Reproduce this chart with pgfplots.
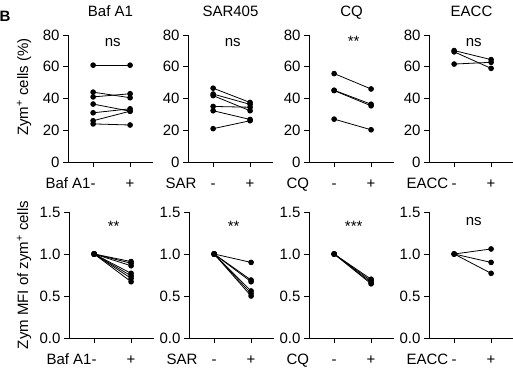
\documentclass[border=0pt]{standalone}
\usepackage{fontspec}
\setmainfont{Liberation Sans}
\setsansfont{Liberation Sans}
\usepackage{pgfplots}
\pgfplotsset{compat=1.18}
\newcommand{\fs}{\fontsize{15}{18}\selectfont}
\pgfplotsset{
 pline/.style={black, solid, line width=0.8pt, mark=*, mark size=2.4pt, mark options={solid, fill=black, draw=black}},
 panel/.style={scale only axis, width=85pt, xmin=-0.68, xmax=1.62,
   axis x line*=bottom, axis y line*=left, tick align=outside, major tick length=5pt,
   xtick={0,1}, xticklabels={}, clip=false,
   axis line style={line width=0.9pt, black}, every tick/.style={line width=0.9pt, black},
   yticklabel style={font=\fs, /pgf/number format/assume math mode=true},
   title style={font=\fs, at={(0.5,1)}, anchor=base, yshift=13pt}},
 top/.style={panel, height=127pt, ymin=0, ymax=80, ytick={0,20,40,60,80}},
 bot/.style={panel, height=126pt, ymin=0, ymax=1.5, ytick={0,0.5,1,1.5},
   yticklabel style={/pgf/number format/.cd, fixed, fixed zerofill, precision=1}},
}
\newcommand{\xlab}[1]{%
 \node[font=\fs, anchor=base west, xshift=-26pt, yshift=-26pt] at (rel axis cs:0,0) {#1};
 \node[font=\fs, anchor=base, yshift=-26pt] at (axis cs:0,0) {-};
 \node[font=\fs, anchor=base, yshift=-26pt] at (axis cs:1,0) {+};}
\begin{document}
\begin{tikzpicture}
\useasboundingbox (0,0) rectangle (513pt,370pt);
\node[font=\fs\bfseries, anchor=base west] at (-4pt,348pt) {B};
\node[font=\fs, rotate=90] at (24pt,283pt) {Zym\textsuperscript{+} cells (\%)};
\node[font=\fs, rotate=90] at (24pt,95pt) {Zym MFI of zym\textsuperscript{+} cells};
% ---- top row
\begin{axis}[top, at={(68pt,208pt)}, anchor=south west, title={Baf A1}]
\addplot[pline] coordinates {(0,61) (1,61)};
\addplot[pline] coordinates {(0,44) (1,40.5)};
\addplot[pline] coordinates {(0,41) (1,43)};
\addplot[pline] coordinates {(0,36.5) (1,32)};
\addplot[pline] coordinates {(0,31) (1,33.5)};
\addplot[pline] coordinates {(0,26) (1,32)};
\addplot[pline] coordinates {(0,24) (1,23.3)};
\node[font=\fs, anchor=base] at (axis cs:0.53,73) {ns};
\xlab{Baf A1}
\end{axis}
\begin{axis}[top, at={(188pt,208pt)}, anchor=south west, title={SAR405}]
\addplot[pline] coordinates {(0,46.5) (1,37.5)};
\addplot[pline] coordinates {(0,42.8) (1,36.3)};
\addplot[pline] coordinates {(0,41.8) (1,32.3)};
\addplot[pline] coordinates {(0,35) (1,34.5)};
\addplot[pline] coordinates {(0,32.3) (1,26.8)};
\addplot[pline] coordinates {(0,21) (1,26)};
\node[font=\fs, anchor=base] at (axis cs:0.53,73) {ns};
\xlab{SAR}
\end{axis}
\begin{axis}[top, at={(309pt,208pt)}, anchor=south west, title={CQ}]
\addplot[pline] coordinates {(0,55.7) (1,46)};
\addplot[pline] coordinates {(0,45.2) (1,36.4)};
\addplot[pline] coordinates {(0,45) (1,35.4)};
\addplot[pline] coordinates {(0,27) (1,20.3)};
\node[font=\fs, anchor=base] at (axis cs:0.53,73) {**};
\xlab{CQ}
\end{axis}
\begin{axis}[top, at={(429pt,208pt)}, anchor=south west, title={EACC}]
\addplot[pline] coordinates {(0,70.2) (1,64.5)};
\addplot[pline] coordinates {(0,69.4) (1,59)};
\addplot[pline] coordinates {(0,61.7) (1,62.8)};
\node[font=\fs, anchor=base] at (axis cs:0.53,73) {ns};
\xlab{EACC}
\end{axis}
% ---- bottom row
\begin{axis}[bot, at={(69pt,32pt)}, anchor=south west]
\addplot[pline] coordinates {(0,1) (1,0.91)};
\addplot[pline] coordinates {(0,1) (1,0.89)};
\addplot[pline] coordinates {(0,1) (1,0.86)};
\addplot[pline] coordinates {(0,1) (1,0.77)};
\addplot[pline] coordinates {(0,1) (1,0.74)};
\addplot[pline] coordinates {(0,1) (1,0.71)};
\addplot[pline] coordinates {(0,1) (1,0.67)};
\node[font=\fs, anchor=base] at (axis cs:0.53,1.27) {**};
\xlab{Baf A1}
\end{axis}
\begin{axis}[bot, at={(189pt,32pt)}, anchor=south west]
\addplot[pline] coordinates {(0,1) (1,0.90)};
\addplot[pline] coordinates {(0,1) (1,0.69)};
\addplot[pline] coordinates {(0,1) (1,0.67)};
\addplot[pline] coordinates {(0,1) (1,0.56)};
\addplot[pline] coordinates {(0,1) (1,0.53)};
\addplot[pline] coordinates {(0,1) (1,0.50)};
\node[font=\fs, anchor=base] at (axis cs:0.53,1.27) {**};
\xlab{SAR}
\end{axis}
\begin{axis}[bot, at={(309pt,32pt)}, anchor=south west]
\addplot[pline] coordinates {(0,1) (1,0.70)};
\addplot[pline] coordinates {(0,1) (1,0.68)};
\addplot[pline] coordinates {(0,1) (1,0.66)};
\addplot[pline] coordinates {(0,1) (1,0.645)};
\node[font=\fs, anchor=base] at (axis cs:0.53,1.27) {***};
\xlab{CQ}
\end{axis}
\begin{axis}[bot, at={(429pt,32pt)}, anchor=south west]
\addplot[pline] coordinates {(0,1) (1,1.06)};
\addplot[pline] coordinates {(0,1) (1,0.90)};
\addplot[pline] coordinates {(0,1) (1,0.77)};
\node[font=\fs, anchor=base] at (axis cs:0.53,1.345) {ns};
\xlab{EACC}
\end{axis}
\end{tikzpicture}
\end{document}
